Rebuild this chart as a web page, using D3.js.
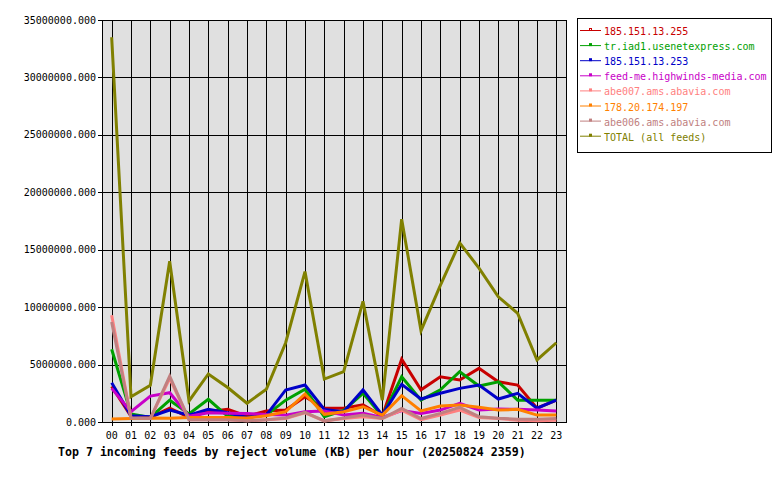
<!DOCTYPE html>
<html>
<head>
<meta charset="utf-8">
<script src="https://cdn.jsdelivr.net/npm/d3@7"></script>
<style>
  body { margin: 0; background: #fff; }
  text { font-family: "DejaVu Sans Mono", monospace; }
</style>
</head>
<body>
<svg id="chart"></svg>
<script>
// hours of the day
var hours = ["00","01","02","03","04","05","06","07","08","09","10","11",
             "12","13","14","15","16","17","18","19","20","21","22","23"];

var feedNames = ["185.151.13.255", "tr.iad1.usenetexpress.com", "185.151.13.253",
                 "feed-me.highwinds-media.com", "abe007.ams.abavia.com", "178.20.174.197",
                 "abe006.ams.abavia.com", "TOTAL (all feeds)"];
var feedColors = ["#c80000", "#00a000", "#0000c8", "#c800c8", "#ff8080", "#ff8000", "#c08080", "#808000"];

// reject volume in KB
var feed1 = [3100000, 500000, 400000, 1200000, 400000, 900000, 1100000, 500000, 960000, 1050000, 2200000, 1190000,
             1190000, 1500000, 500000, 5460000, 2800000, 3940000, 3660000, 4670000, 3500000, 3220000, 1200000, 1900000];
var feed2 = [6330000, 700000, 400000, 1900000, 700000, 1980000, 500000, 400000, 600000, 1900000, 2850000, 460000,
             1000000, 2500000, 500000, 3940000, 1900000, 2800000, 4380000, 3130000, 3500000, 1900000, 1900000, 1900000];
var feed3 = [3420000, 550000, 460000, 1040000, 600000, 1100000, 800000, 400000, 600000, 2790000, 3220000, 1100000,
             900000, 2790000, 600000, 3280000, 2000000, 2500000, 2930000, 3220000, 2000000, 2500000, 1200000, 1900000];
var feed4 = [2930000, 900000, 2260000, 2550000, 500000, 800000, 760000, 750000, 650000, 600000, 900000, 950000,
             600000, 750000, 400000, 1000000, 750000, 1040000, 1630000, 1040000, 1130000, 1100000, 1040000, 960000];
var feed5 = [9300000, 350000, 300000, 3800000, 200000, 200000, 200000, 100000, 200000, 300000, 800000, 100000,
             300000, 450000, 300000, 1040000, 200000, 600000, 1040000, 400000, 300000, 150000, 100000, 150000];
var feed6 = [260000, 300000, 350000, 320000, 400000, 400000, 400000, 350000, 550000, 900000, 2440000, 670000,
             900000, 1330000, 600000, 2290000, 960000, 1390000, 1480000, 1280000, 1040000, 1100000, 600000, 600000];
var feed7 = [8700000, 350000, 300000, 4000000, 200000, 200000, 200000, 100000, 200000, 350000, 840000, 100000,
             350000, 600000, 300000, 1190000, 300000, 750000, 1280000, 460000, 320000, 250000, 250000, 300000];
var total = [33500000, 2200000, 3200000, 14000000, 1830000, 4180000, 3000000, 1630000, 2850000, 6900000, 13100000, 3740000,
             4380000, 10500000, 1900000, 17650000, 7950000, 11900000, 15600000, 13400000, 10900000, 9460000, 5400000, 6900000];

var yTicks = [0, 5000000, 10000000, 15000000, 20000000, 25000000, 30000000, 35000000];
var title = "Top 7 incoming feeds by reject volume (KB) per hour (20250824 2359)";

var series = [feed1, feed2, feed3, feed4, feed5, feed6, feed7, total];

(function() {
  var width = 780, height = 480;
  var pLeft = 102, pRight = 566, pTop = 20, pBottom = 422;

  var svg = d3.select("#chart").attr("width", width).attr("height", height);

  var x = d3.scalePoint().domain(hours).range([pLeft, pRight]).padding(0.5);
  var y = d3.scaleLinear().domain([0, 35000000]).range([pBottom, pTop]);

  // plot background
  svg.append("rect")
    .attr("x", pLeft).attr("y", pTop)
    .attr("width", pRight - pLeft).attr("height", pBottom - pTop)
    .attr("fill", "#e0e0e0");

  // grid
  svg.append("g").selectAll("line")
    .data(yTicks)
    .join("line")
    .attr("x1", pLeft - 4).attr("x2", pRight)
    .attr("y1", function(d) { return Math.round(y(d)) + 0.5; })
    .attr("y2", function(d) { return Math.round(y(d)) + 0.5; })
    .attr("stroke", "#000");
  svg.append("g").selectAll("line")
    .data(hours)
    .join("line")
    .attr("x1", function(d) { return Math.round(x(d)) + 0.5; })
    .attr("x2", function(d) { return Math.round(x(d)) + 0.5; })
    .attr("y1", pTop).attr("y2", pBottom + 4)
    .attr("stroke", "#000");

  // frame
  svg.append("rect")
    .attr("x", pLeft + 0.5).attr("y", pTop + 0.5)
    .attr("width", pRight - pLeft).attr("height", pBottom - pTop)
    .attr("fill", "none").attr("stroke", "#000");

  // axis labels
  var fmt = d3.format(".3f");
  svg.append("g").selectAll("text")
    .data(yTicks)
    .join("text")
    .attr("x", pLeft - 6)
    .attr("y", function(d) { return y(d); })
    .attr("dy", "0.35em")
    .attr("text-anchor", "end")
    .attr("font-size", "10px")
    .text(function(d) { return fmt(d); });
  svg.append("g").selectAll("text")
    .data(hours)
    .join("text")
    .attr("x", function(d) { return x(d); })
    .attr("y", 439)
    .attr("text-anchor", "middle")
    .attr("font-size", "10px")
    .text(function(d) { return d; });

  svg.append("text")
    .attr("x", 58).attr("y", 456)
    .attr("font-size", "11.6px")
    .attr("font-weight", "bold")
    .text(title);

  // lines
  var line = d3.line()
    .x(function(d, i) { return x(hours[i]); })
    .y(function(d) { return y(d); });

  svg.append("g").selectAll("path")
    .data(series)
    .join("path")
    .attr("d", line)
    .attr("fill", "none")
    .attr("stroke", function(d, i) { return feedColors[i]; })
    .attr("stroke-width", 3)
    .attr("stroke-linejoin", "miter");

  // legend
  var legend = svg.append("g");
  legend.append("rect")
    .attr("x", 577.5).attr("y", 18.5)
    .attr("width", 194).attr("height", 134)
    .attr("fill", "#fff").attr("stroke", "#000");

  var rowH = 15.1;
  var items = legend.selectAll("g.item")
    .data(feedNames)
    .join("g")
    .attr("class", "item")
    .attr("transform", function(d, i) { return "translate(0," + (32 + i * rowH) + ")"; });
  items.append("line")
    .attr("x1", 580).attr("x2", 601)
    .attr("y1", -1.5).attr("y2", -1.5)
    .attr("stroke", function(d, i) { return feedColors[i]; });
  items.append("rect")
    .attr("x", 589.5).attr("y", -3.5)
    .attr("width", 2).attr("height", 2)
    .attr("fill", "none")
    .attr("stroke", function(d, i) { return feedColors[i]; });
  items.append("text")
    .attr("x", 604).attr("y", 0)
    .attr("dy", "0.3em")
    .attr("font-size", "10px")
    .attr("fill", function(d, i) { return feedColors[i]; })
    .text(function(d) { return d; });
})();
</script>
</body>
</html>
